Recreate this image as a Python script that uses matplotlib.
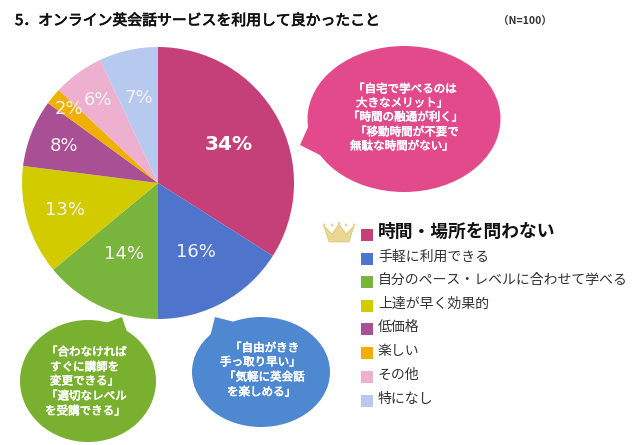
# online eikaiwa survey pie, with speech bubbles and hand drawn legend
import numpy as np
import matplotlib
matplotlib.use("Agg")
import matplotlib.pyplot as plt
import matplotlib.patheffects as pe
from matplotlib.patches import Ellipse, Polygon, Rectangle, Circle

plt.rcParams['font.family'] = ['Noto Sans CJK JP', 'DejaVu Sans']

categories = ["時間・場所を問わない", "手軽に利用できる", "自分のペース・レベルに合わせて学べる",
              "上達が早く効果的", "低価格", "楽しい", "その他", "特になし"]
values = [34, 16, 14, 13, 8, 2, 6, 7]
colors = ["#C53F78", "#4F74CC", "#79B53D", "#D2CB00", "#A94F93", "#F0B000", "#EDB0CE", "#B8C9F0"]
label_dist = [0.59, 0.58, 0.58, 0.71, 0.74, 0.85, 0.75, 0.64]

title = "5．オンライン英会話サービスを利用して良かったこと"
note = "（N=100）"

pink_lines = ["「自宅で学べるのは", "大きなメリット」", "「時間の融通が利く」", "「移動時間が不要で", "無駄な時間がない」"]
pink_x = [353, 356, 348, 355, 350]
pink_y = [89, 103, 117, 132, 146]
green_lines = ["「合わなければ", "すぐに講師を", "変更できる」", "「適切なレベル", "を受講できる」"]
green_x = [46, 50, 50, 46, 45]
green_y = [352, 367, 381, 396, 411]
blue_lines = ["「自由がきき", "手っ取り早い」", "「気軽に英会話", "を楽しめる」"]
blue_x = [230, 220, 224, 227]
blue_y = [348, 362, 377, 392]
legend_y = [235, 259, 282, 306, 329, 353, 377, 401]


def fy(y):
    # picture pixels run downward, axes run upward
    return 445 - y


def bubble(ax, cx, cy, w, h, tail, color):
    ax.add_patch(Polygon([(x, fy(y)) for x, y in tail], closed=True, fc=color, ec="none", zorder=3))
    ax.add_patch(Ellipse((cx, fy(cy)), w, h, fc=color, ec="none", zorder=3))


def bubble_text(ax, lines, xs, ys):
    for line, x, y in zip(lines, xs, ys):
        ax.text(x, fy(y), line, color="white", fontsize=8.3, ha="left", va="center", zorder=4,
                path_effects=[pe.withStroke(linewidth=0.4, foreground="white")])


fig = plt.figure(figsize=(6.4, 4.45), dpi=100)
ax = fig.add_axes([0, 0, 1, 1])

wedges, _ = ax.pie(values, colors=colors, startangle=90, counterclock=False,
                   center=(158, fy(183)), radius=136, frame=False)
ax.set_xlim(0, 640)
ax.set_ylim(0, 445)
ax.axis("off")

for i, (w, v) in enumerate(zip(wedges, values)):
    a = np.radians((w.theta1 + w.theta2) / 2)
    px = 158 + 136 * label_dist[i] * np.cos(a)
    py = fy(183) + 136 * label_dist[i] * np.sin(a)
    if i == 0:
        ax.text(px, py, "%d%%" % v, color="white", fontsize=14.5, fontweight="bold",
                family="DejaVu Sans", ha="center", va="center")
    else:
        ax.text(px, py, "%d%%" % v, color="#F5F2F5", fontsize=13,
                family="DejaVu Sans", ha="center", va="center")

ax.text(15, fy(21), title, fontsize=10.7, color="#111111", ha="left", va="center",
        path_effects=[pe.withStroke(linewidth=0.5, foreground="#111111")])
ax.text(498, fy(21), note, fontsize=7.6, fontweight="bold", color="#333333", ha="left", va="center")

bubble(ax, 404, 119, 193, 146, [(300, 145), (309, 125), (322, 156)], "#E24A8B")
bubble(ax, 88, 381, 136, 122, [(122, 317), (100, 325), (132, 347)], "#7AB02F")
bubble(ax, 261, 372, 138, 110, [(215, 317), (208, 345), (250, 326)], "#4E88D0")
bubble_text(ax, pink_lines, pink_x, pink_y)
bubble_text(ax, green_lines, green_x, green_y)
bubble_text(ax, blue_lines, blue_x, blue_y)

# legend
for i, (cat, c, y) in enumerate(zip(categories, colors, legend_y)):
    ax.add_patch(Rectangle((361, fy(y) - 6), 12, 12, fc=c, ec="none"))
    if i == 0:
        ax.text(378, fy(y - 3), cat, fontsize=12.8, fontweight="bold", color="#111111", ha="left", va="center")
    else:
        ax.text(378, fy(y - 2), cat, fontsize=10, color="#333333", ha="left", va="center")

# crown
crown = [(324, 226), (332, 234), (339, 224), (346, 234), (354, 226), (349, 242), (329, 242)]
ax.add_patch(Polygon([(x, fy(y)) for x, y in crown], closed=True, fc="#E9D793", ec="#D9C273", lw=0.5))
for x, y in [(324, 225), (332, 225), (339, 223), (346, 225), (354, 225)]:
    ax.add_patch(Circle((x, fy(y)), 1.4, fc="#E9D793", ec="none"))

fig.savefig("out.png", dpi=100)
